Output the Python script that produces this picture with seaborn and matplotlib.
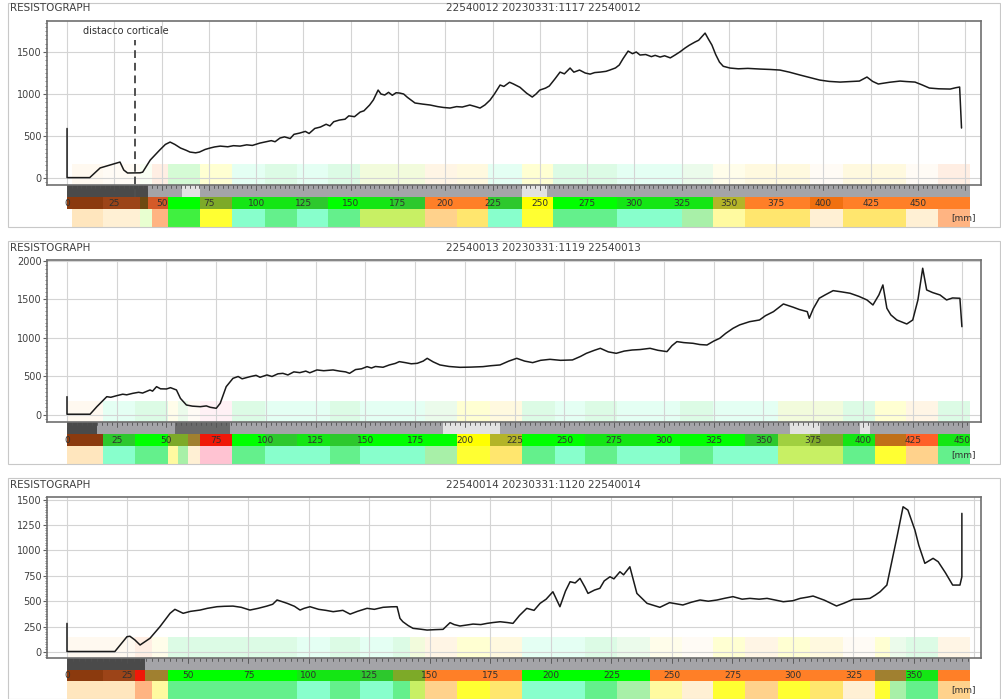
import numpy as np
import matplotlib
matplotlib.use("Agg")
import matplotlib.pyplot as plt
from matplotlib.patches import Rectangle
from matplotlib.ticker import MultipleLocator
import seaborn as sns

# ---------------- dati ----------------
titoli = ["22540012 20230331:1117 22540012",
          "22540013 20230331:1119 22540013",
          "22540014 20230331:1120 22540014"]

# profilo 1 (mm, ampiezza)
depth1 = [0, 0, 12, 17.5, 22, 26.4, 28, 30, 32, 38.6, 40, 44, 49, 52, 54.5, 57, 60, 63, 65, 68, 70, 73, 75.6, 78,
          81, 85, 88, 91.5, 95, 98, 102, 105, 108, 110, 112.6, 115, 118, 120, 123, 126, 128, 131, 134, 137, 139,
          141, 144, 147, 149, 152, 155, 157, 160, 162, 164.5, 166, 168, 170, 172, 174, 176, 178, 180, 184, 188,
          192, 196, 199, 202.5, 206, 209, 213, 216, 218.4, 221, 223.7, 226, 229, 231, 234, 236, 239.5, 243, 246,
          248, 250, 253, 255, 258, 260.7, 263, 266, 268, 271, 274, 276.6, 279, 282, 285, 287, 290, 292, 294,
          296.7, 299, 301, 303, 306, 309, 311, 313.6, 316, 319, 321.5, 324, 326.8, 329, 332, 334, 336, 337.4,
          339, 341, 343, 345, 347, 350.6, 355, 360, 366.5, 372, 377, 382, 387.6, 393, 398, 403, 408.8, 414, 419,
          423, 426, 429, 435, 440.5, 444, 448.4, 452, 456, 461, 467, 470, 472, 473]
amp1 = [590, 5, 5, 120, 150, 178, 190, 95, 60, 62, 70, 214, 333, 400, 428, 400, 357, 330, 309, 300, 309, 340, 357,
        370, 380, 372, 385, 380, 395, 388, 416, 430, 445, 432, 476, 490, 470, 520, 535, 555, 530, 590, 607, 640,
        620, 670, 690, 700, 740, 730, 785, 800, 869, 930, 1047, 1000, 988, 1020, 985, 1015, 1011, 1000, 960, 893,
        880, 869, 850, 840, 833, 850, 845, 869, 850, 833, 870, 928, 1000, 1107, 1090, 1140, 1120, 1080, 1010, 964,
        1000, 1047, 1070, 1095, 1180, 1261, 1240, 1309, 1260, 1285, 1250, 1237, 1255, 1261, 1270, 1285, 1310,
        1345, 1420, 1511, 1480, 1500, 1464, 1470, 1445, 1460, 1440, 1455, 1430, 1464, 1500, 1547, 1580, 1618,
        1640, 1690, 1725, 1660, 1583, 1470, 1380, 1330, 1309, 1300, 1305, 1297, 1292, 1285, 1260, 1226, 1195,
        1166, 1150, 1142, 1148, 1154, 1202, 1150, 1119, 1140, 1154, 1148, 1142, 1110, 1071, 1062, 1059, 1075,
        1083, 595]

# profilo 2
depth2 = [0, 0, 11.6, 15, 17, 20, 22, 25, 28, 30, 33, 36, 38, 41.7, 43, 45, 47, 50, 52, 55, 57, 60, 63, 67, 70,
          72, 75, 77, 80, 83.4, 86, 88, 92, 95, 97, 100.5, 103, 106, 108.5, 111, 114, 117, 120, 122, 125.6, 129,
          133.7, 137, 140, 142, 145, 148, 150.8, 153, 155, 158.8, 162, 165, 167, 170, 173, 176, 179, 181, 184,
          187.4, 192, 197.5, 203, 209, 213, 217.6, 222, 226, 230, 234, 238, 242.7, 248, 254, 258, 261, 265, 268,
          272, 276, 280, 284, 288, 293, 297, 301.5, 304, 306.5, 310, 314.6, 318, 321.6, 325, 328, 331, 334.7,
          338, 343, 348, 351, 355, 360, 365, 368, 372, 373, 375, 378, 381, 385, 389, 393.5, 398, 402, 405, 408,
          410, 412, 414, 417, 422, 425, 427.6, 430, 432, 435, 438.7, 442, 445, 448.7, 449.7]
amp2 = [238, 10, 10, 108, 160, 238, 230, 251, 270, 262, 281, 295, 285, 325, 310, 368, 340, 338, 355, 325, 216,
        130, 115, 108, 118, 100, 87, 152, 368, 476, 500, 470, 498, 515, 490, 520, 500, 535, 541, 520, 560, 550,
        570, 548, 585, 575, 585, 570, 560, 541, 590, 600, 628, 610, 630, 620, 650, 670, 693, 680, 665, 671, 700,
        736, 690, 650, 630, 619, 622, 628, 640, 650, 700, 736, 700, 680, 710, 723, 710, 715, 760, 801, 840, 866,
        820, 801, 830, 844, 850, 866, 840, 823, 900, 953, 940, 931, 915, 909, 960, 996, 1060, 1126, 1170, 1212,
        1234, 1290, 1342, 1442, 1399, 1370, 1342, 1256, 1380, 1516, 1560, 1615, 1600, 1581, 1540, 1494, 1429,
        1560, 1689, 1386, 1300, 1234, 1182, 1234, 1494, 1906, 1624, 1590, 1559, 1494, 1520, 1516, 1147]

# profilo 3
depth3 = [0, 0, 19.8, 24.8, 26, 28, 30.2, 34.3, 38.4, 42.6, 44.6, 48, 51, 55, 58, 62, 65, 68.6, 72, 75.6, 79, 82.6,
          85, 86.8, 89, 91, 94, 96.3, 98, 100.4, 104, 107, 110, 114, 117, 120, 124, 127, 130.6, 134, 136.4, 137.6,
          138.8, 141, 143, 146, 148.8, 152, 155.4, 158.3, 160, 162.4, 165, 167.8, 171, 173.6, 176, 179, 182,
          184.3, 187, 190, 193, 195.5, 198, 200.8, 203.7, 206, 207.9, 210, 212, 214, 215.3, 218, 220.2, 222,
          224.4, 226, 228.5, 230, 232.6, 235.5, 239.7, 245, 249, 254.5, 258, 261.6, 265, 268.6, 272, 275.2, 279,
          282.2, 286, 289.3, 293, 296, 300, 303, 306, 308.3, 313, 318, 321, 324.8, 328, 331.8, 334, 336, 338.8,
          343, 345.5, 347.5, 350.4, 352, 354.5, 357.9, 360, 363, 366, 369, 369.8, 369.8]
amp3 = [282, 5, 5, 151, 155, 120, 69, 135, 249, 381, 420, 381, 400, 413, 430, 446, 450, 452, 440, 413, 430, 452,
        470, 512, 495, 479, 450, 413, 430, 446, 420, 410, 397, 410, 373, 400, 430, 420, 440, 445, 446, 331, 298,
        260, 233, 225, 216, 220, 223, 289, 270, 256, 265, 275, 270, 282, 290, 298, 290, 282, 360, 430, 410, 479,
        520, 593, 446, 600, 692, 680, 725, 640, 577, 610, 627, 700, 741, 720, 790, 760, 839, 577, 479, 440, 486,
        463, 490, 512, 500, 512, 530, 545, 520, 528, 520, 528, 510, 495, 505, 528, 540, 551, 510, 453, 480, 518,
        520, 528, 560, 593, 659, 1135, 1430, 1397, 1200, 1050, 873, 922, 889, 780, 659, 659, 741, 1365]

# fascia grigia (riga alta): bordi in mm e classi
rigaA1_bordi = [0, 42.8, 60.8, 70.3, 240.6, 253.8, 477.5]
rigaA1_cls = ['D', 'G', 'L', 'G', 'L', 'G']
rigaA2_bordi = [0, 15.1, 54.3, 81.9, 189, 217.6, 363.3, 378.4, 398.5, 403.5, 453.8]
rigaA2_cls = ['D', 'G', 'M', 'G', 'L', 'G', 'L', 'G', 'L', 'G']
rigaA3_bordi = [0, 32.2, 373.1]
rigaA3_cls = ['D', 'G']

# fascia colorata con le quote
rigaB1_bordi = [0, 19.0, 38.6, 42.8, 53.4, 70.3, 87.3, 121.6, 138.0, 154.9, 172.4, 189.3, 222.6, 240.6, 257.0,
                290.9, 341.6, 358.5, 392.9, 410.4, 477.5]
rigaB1_cls = ['M', 'm', 'K', 'R', 'G', 'O', 'g', 'h', 'G', 'g', 'h', 'A', 'h', 'Y', 'G', 'g', 'Q', 'A', 'a', 'A']
rigaB2_bordi = [0, 18.1, 34.2, 50.8, 60.8, 66.8, 82.9, 99.5, 115.6, 132.2, 147.2, 196.0, 212.6, 228.6, 260.3,
                293.0, 340.7, 357.3, 373.4, 389.9, 406.0, 421.6, 437.7, 453.8]
rigaB2_cls = ['M', 'h', 'G', 'O', 'U', 'r', 'G', 'h', 'g', 'h', 'G', 'Y', 'Q', 'G', 'g', 'G', 'h', 'L', 'O', 'g',
              'B', 'S', 'g']
rigaB3_bordi = [0, 14.9, 28.1, 32.2, 41.7, 95.0, 121.1, 134.7, 147.9, 188.0, 240.9, 333.9, 346.7, 359.9, 373.1]
rigaB3_cls = ['M', 'm', 'r', 'U', 'G', 'g', 'h', 'O', 'A', 'G', 'A', 'U', 'g', 'A']

# fascia chiara (riga bassa)
rigaC1_bordi = [2.6, 19.0, 38.6, 45.0, 53.4, 70.3, 87.3, 104.7, 121.6, 138.0, 154.9, 172.4, 189.3, 206.2, 222.6,
                240.6, 257.0, 290.9, 325.2, 341.6, 358.5, 376.0, 392.9, 410.4, 443.7, 460.6, 477.5]
rigaC1_cls = ['p', 'q', 'v', 'o', 'G', 'y', 'a', 'g', 'a', 'g', 'l', 'l', 'z', 'w', 'a', 'y', 'g', 'a', 'e', 'n',
              'w', 'w', 'q', 'w', 'q', 'o']
rigaC2_bordi = [0, 18.1, 34.2, 50.8, 55.8, 60.8, 66.8, 82.9, 99.5, 132.2, 147.2, 163.8, 179.9, 196.0, 212.6, 228.6,
                245.2, 260.3, 276.4, 308.0, 324.6, 357.3, 373.4, 389.9, 406.0, 421.6, 437.7, 453.8]
rigaC2_cls = ['p', 'a', 'g', 'n', 'e', 'q', 'k', 'g', 'a', 'g', 'a', 'a', 'e', 'y', 'w', 'g', 'a', 'g', 'a', 'g',
              'a', 'l', 'l', 'g', 'y', 'z', 'g']
rigaC3_bordi = [0, 28.1, 35.1, 41.7, 95.0, 108.7, 121.1, 134.7, 141.7, 147.9, 161.2, 174.8, 188.0, 200.8, 214.0,
                227.3, 240.9, 254.1, 266.9, 280.2, 293.8, 307.0, 320.7, 333.9, 340.1, 346.7, 359.9, 373.1]
rigaC3_cls = ['p', 'o', 'n', 'g', 'a', 'g', 'a', 'g', 'l', 'z', 'y', 'w', 'a', 'a', 'g', 'e', 'n', 'q', 'y', 'z',
              'y', 'w', 'q', 'y', 'e', 'g', 'z']

distacco_mm = 36

# ---------------- stile ----------------
colA = {'D': '#4a4a4a', 'M': '#6a6a6a', 'G': '#a4a4a8', 'L': '#e2e2e2'}
colB = {'M': '#8b3a0e', 'm': '#9c4418', 'K': '#6e4a12', 'R': '#d45a28', 'r': '#f01808', 'G': '#00ff00',
        'g': '#14e614', 'h': '#2dc82d', 'O': '#7daa28', 'Q': '#b4b428', 'Y': '#ffff00', 'A': '#ff7f27',
        'a': '#f07010', 'B': '#c07018', 'U': '#a08030', 'S': '#ff6028', 'L': '#a0d040'}
colC = {'p': '#ffe6be', 'q': '#fff0d4', 'v': '#e8ffd0', 'o': '#ffb482', 'G': '#40f040', 'g': '#64f08c',
        'a': '#88ffcc', 'y': '#ffff32', 'w': '#ffe66e', 'n': '#fffaa0', 'l': '#c8f064', 'k': '#ffc3d2',
        'e': '#a8f0a8', 'z': '#ffd28c'}

sns.set_theme(style="white")
plt.rcParams['font.family'] = ['DejaVu Sans']

W, H = 1001, 699
fig = plt.figure(figsize=(W / 100, H / 100), dpi=100)
fig.patch.set_facecolor('white')

pannelli = [
    dict(d=depth1, v=amp1, A=(rigaA1_bordi, rigaA1_cls), B=(rigaB1_bordi, rigaB1_cls), C=(rigaC1_bordi, rigaC1_cls),
         linea=3, tit=8, top=21, bot=185, sb=227, xlim=(-10.6, 483.3), ylim=(-83, 1869), ys=500, yminor=50),
    dict(d=depth2, v=amp2, A=(rigaA2_bordi, rigaA2_cls), B=(rigaB2_bordi, rigaB2_cls), C=(rigaC2_bordi, rigaC2_cls),
         linea=241, tit=248, top=260, bot=422, sb=464, xlim=(-10.05, 459.3), ylim=(-91, 2013), ys=500, yminor=50),
    dict(d=depth3, v=amp3, A=(rigaA3_bordi, rigaA3_cls), B=(rigaB3_bordi, rigaB3_cls), C=(rigaC3_bordi, rigaC3_cls),
         linea=478, tit=485, top=497, bot=658, sb=699, xlim=(-8.26, 377.7), ylim=(-59, 1526), ys=250, yminor=25),
]

L, R = 47, 981


def barre(ax, bordi, cls, pal, y0, h, **kw):
    b = np.array(bordi)
    ax.bar(b[:-1], h, width=np.diff(b), bottom=y0, align='edge',
           color=[pal[c] for c in cls], linewidth=0, **kw)


for i, p in enumerate(pannelli):
    # cornice del pannello
    fig.add_artist(Rectangle((8 / W, 1 - p['sb'] / H), (1000 - 8) / W, (p['sb'] - p['linea']) / H,
                             transform=fig.transFigure, fill=False, ec='#c8c8c8', lw=0.8))
    fig.text(10 / W, 1 - p['tit'] / H, "RESISTOGRAPH", fontsize=7.5, color='#404040', va='center')
    fig.text(543 / W, 1 - p['tit'] / H, titoli[i], fontsize=7.5, color='#404040', va='center', ha='center')

    ax = fig.add_axes([L / W, 1 - p['bot'] / H, (R - L) / W, (p['bot'] - p['top']) / H])
    ax.set_zorder(3)
    ax.set_xlim(*p['xlim'])
    ax.set_ylim(*p['ylim'])
    ax.xaxis.set_major_locator(MultipleLocator(25))
    ax.yaxis.set_major_locator(MultipleLocator(p['ys']))
    ax.yaxis.set_minor_locator(MultipleLocator(p['yminor']))
    ax.set_yticks([t for t in ax.get_yticks() if 0 <= t <= p['ylim'][1]])
    ax.grid(True, which='major', color='#d4d4d4', lw=0.8)
    ax.set_axisbelow(True)
    ax.tick_params(axis='x', length=0, labelbottom=False)
    ax.tick_params(axis='y', which='major', length=3, width=0.8, color='#606060', labelsize=7,
                   labelcolor='#404040', pad=1, left=True)
    ax.tick_params(axis='y', which='minor', length=1.5, width=0.6, color='#707070', left=True)
    for s in ax.spines.values():
        s.set_color('#707070')
        s.set_linewidth(1.2)

    # fascia pastello in fondo al grafico
    bC, cC = p['C']
    for a0, a1, c in zip(bC[:-1], bC[1:], cC):
        ax.axvspan(a0, a1, ymin=0, ymax=0.13, color=colC[c], alpha=0.22, lw=0, zorder=0)

    sns.lineplot(x=p['d'], y=p['v'], ax=ax, color='#1a1a1a', lw=1.1, sort=False, estimator=None)
    ax.set_xlabel('')
    ax.set_ylabel('')

    if i == 0:
        ax.axvline(distacco_mm, ymin=-0.075, ymax=0.885, clip_on=False, color='#505050',
                   lw=1.4, ls=(0, (4, 2.5)))
        ax.text(8.5, 1750, "distacco corticale", fontsize=7, color='#303030', va='center')

    # fasce colorate sotto l'asse
    sx = fig.add_axes([L / W, 1 - p['sb'] / H, (R - L) / W, (p['sb'] - p['bot']) / H])
    sx.set_xlim(*p['xlim'])
    sx.set_ylim(0, 42)
    sx.axis('off')
    barre(sx, *p['C'], colC, 0, 18)
    barre(sx, *p['B'], colB, 18, 12)
    barre(sx, *p['A'], colA, 30, 12)
    fine = p['A'][0][-1]
    for q in np.arange(0, fine, 2.5):
        lung = 5 if q % 25 == 0 else 3
        sx.plot([q, q], [42, 42 - lung], color='#505050', lw=0.6)
    for q in range(0, int(fine) - 2, 25):
        sx.text(q, 24, str(q), fontsize=6.5, color='#303030', ha='center', va='center')
    sx.text(0.981, 0.22, "[mm]", transform=sx.transAxes, fontsize=6.5, color='#303030',
            ha='center', va='center')

fig.savefig("out.png", dpi=100, facecolor='white')
